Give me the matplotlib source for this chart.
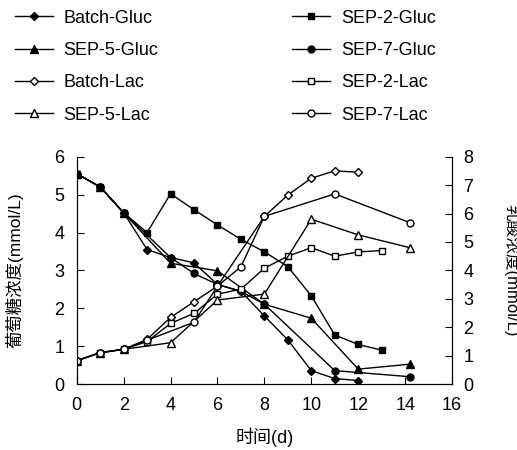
import numpy as np
import matplotlib
matplotlib.use('Agg')
import matplotlib.pyplot as plt

plt.rcParams['font.family'] = ['Liberation Sans', 'Noto Sans CJK SC']

# glucose (left axis, mmol/L)
batch_gluc_x = [0, 1, 2, 3, 4, 5, 6, 7, 8, 9, 10, 11, 12]
batch_gluc_y = [5.55, 5.2, 4.52, 3.55, 3.34, 3.2, 2.63, 2.45, 1.8, 1.17, 0.36, 0.15, 0.1]
sep2_gluc_x = [0, 1, 2, 3, 4, 5, 6, 7, 8, 9, 10, 11, 12, 13]
sep2_gluc_y = [5.55, 5.2, 4.52, 4.0, 5.02, 4.6, 4.2, 3.82, 3.49, 3.1, 2.33, 1.3, 1.05, 0.9]
sep5_gluc_x = [0, 1, 2, 4, 6, 8, 10, 12, 14.2]
sep5_gluc_y = [5.55, 5.2, 4.52, 3.19, 2.99, 2.11, 1.74, 0.4, 0.53]
sep7_gluc_x = [0, 1, 2, 4, 5, 6, 7, 8, 11, 14.2]
sep7_gluc_y = [5.55, 5.2, 4.52, 3.34, 2.92, 2.63, 2.45, 2.11, 0.36, 0.2]

# lactate (right axis, mmol/L)
batch_lac_x = [0, 1, 2, 3, 4, 5, 6, 8, 9, 10, 11, 12]
batch_lac_y = [0.83, 1.11, 1.23, 1.58, 2.35, 2.9, 3.45, 5.9, 6.65, 7.24, 7.5, 7.45]
sep2_lac_x = [0, 1, 2, 3, 4, 5, 6, 7, 8, 9, 10, 11, 12, 13]
sep2_lac_y = [0.83, 1.11, 1.23, 1.5, 2.14, 2.49, 3.17, 3.34, 4.08, 4.5, 4.8, 4.5, 4.65, 4.7]
sep5_lac_x = [0, 1, 2, 4, 6, 8, 10, 12, 14.2]
sep5_lac_y = [0.83, 1.11, 1.23, 1.46, 2.96, 3.17, 5.8, 5.25, 4.8]
sep7_lac_x = [0, 1, 2, 3, 5, 6, 7, 8, 11, 14.2]
sep7_lac_y = [0.83, 1.11, 1.23, 1.55, 2.18, 3.45, 4.13, 5.9, 6.69, 5.68]

fig = plt.figure(figsize=(5.17, 4.5), dpi=100)
ax = fig.add_axes([0.1484, 0.146, 0.726, 0.506])
ax2 = ax.twinx()

kw = dict(color='black', lw=1)
l1, = ax.plot(batch_gluc_x, batch_gluc_y, marker='D', ms=4.5, label='Batch-Gluc', **kw)
l2, = ax.plot(sep2_gluc_x, sep2_gluc_y, marker='s', ms=5, label='SEP-2-Gluc', **kw)
l3, = ax.plot(sep5_gluc_x, sep5_gluc_y, marker='^', ms=5.5, label='SEP-5-Gluc', **kw)
l4, = ax.plot(sep7_gluc_x, sep7_gluc_y, marker='o', ms=5, label='SEP-7-Gluc', **kw)

ow = dict(mfc='white', mec='black', mew=1)
l5, = ax2.plot(batch_lac_x, batch_lac_y, marker='D', ms=4.5, label='Batch-Lac', **kw, **ow)
l6, = ax2.plot(sep2_lac_x, sep2_lac_y, marker='s', ms=5, label='SEP-2-Lac', **kw, **ow)
l7, = ax2.plot(sep5_lac_x, sep5_lac_y, marker='^', ms=5.5, label='SEP-5-Lac', **kw, **ow)
l8, = ax2.plot(sep7_lac_x, sep7_lac_y, marker='o', ms=5, label='SEP-7-Lac', **kw, **ow)

ax.set_xlim(0, 16)
ax.set_ylim(0, 6)
ax2.set_ylim(0, 8)
ax.set_xticks(np.arange(0, 17, 2))
ax.set_yticks(np.arange(0, 7, 1))
ax2.set_yticks(np.arange(0, 9, 1))
for a in (ax, ax2):
    a.spines['top'].set_visible(False)
ax.tick_params(direction='in', length=5, labelsize=13, pad=9)
ax2.tick_params(direction='in', length=5, labelsize=13, pad=8)

ax.set_xlabel('时间(d)', fontsize=13, labelpad=10)
ax.set_ylabel('葡萄糖浓度(mmol/L)', fontsize=12.5, labelpad=22)
fig.text(0.99, 0.4, '乳酸浓度(mmol/L)', rotation=270, fontsize=12,
         ha='center', va='center')

handles = [l1, l3, l5, l7, l2, l4, l6, l8]
fig.legend(handles=handles, labels=[h.get_label() for h in handles], ncol=2,
           loc='upper left', bbox_to_anchor=(0.01, 1.0), frameon=False,
           fontsize=13, handlelength=2.1, handletextpad=0.6, columnspacing=7.4,
           labelspacing=0.85, borderpad=0.03)

fig.savefig('out.png', dpi=100)
